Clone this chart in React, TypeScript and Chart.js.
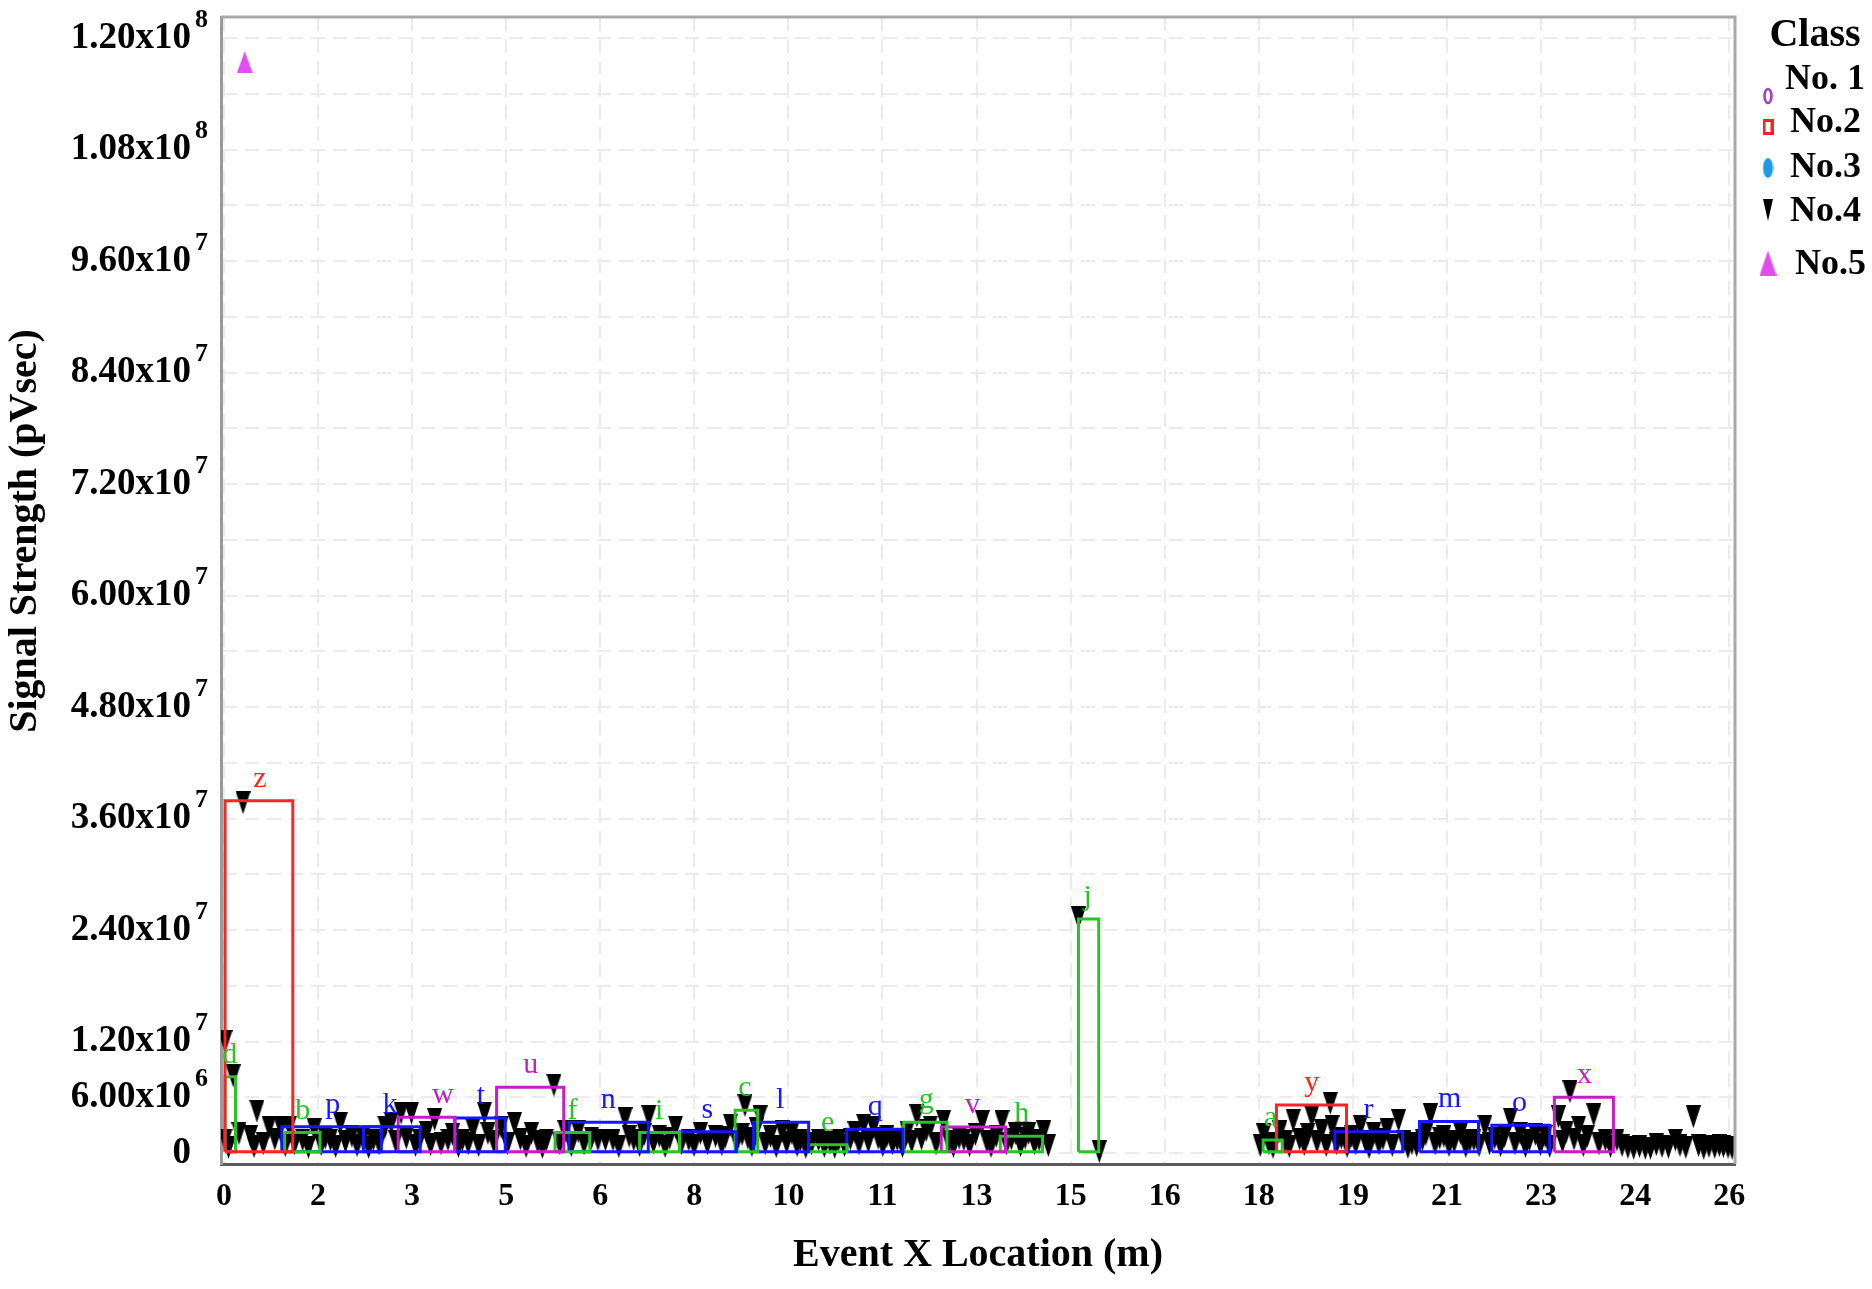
import React, { useEffect, useRef } from 'react';
import { Chart, registerables } from 'chart.js';

Chart.register(...registerables);

// ---------- axes ----------
const xTickValues = [0, 1.625, 3.25, 4.875, 6.5, 8.125, 9.75, 11.375, 13, 14.625, 16.25, 17.875, 19.5, 21.125, 22.75, 24.375, 26];
const xTickLabels = ['0', '2', '3', '5', '6', '8', '10', '11', '13', '15', '16', '18', '19', '21', '23', '24', '26'];

const yGridValues = [0, 6e6, 12e6, 18e6, 24e6, 30e6, 36e6, 42e6, 48e6, 54e6, 60e6, 66e6, 72e6, 78e6, 84e6, 90e6, 96e6, 102e6, 108e6, 114e6, 120e6];
const yLabelValues = [0, 6e6, 12e6, 24e6, 36e6, 48e6, 60e6, 72e6, 84e6, 96e6, 108e6, 120e6];
const yLabelBase = ['0', '6.00x10', '1.20x10', '2.40x10', '3.60x10', '4.80x10', '6.00x10', '7.20x10', '8.40x10', '9.60x10', '1.08x10', '1.20x10'];
const yLabelExp = ['', '6', '7', '7', '7', '7', '7', '7', '7', '7', '8', '8'];

const xTitle = 'Event X Location (m)';
const yTitle = 'Signal Strength (pVsec)';
const legendTitle = 'Class';
const classNames = ['No. 1', 'No.2', 'No.3', 'No.4', 'No.5'];

// ---------- class 4 events (x in m, y in 1e6 pVsec) ----------
const class4X = [
  0.02, 0.16, 0.02, 0.08, 0.26, 0.33, 0.46, 0.52, 0.57, 0.68, 0.78, 0.88, 0.98, 1.06, 1.13,
  1.22, 1.36, 1.46, 1.56, 1.68, 1.75, 1.84, 1.93, 2.01, 2.10, 2.21, 2.30, 2.40, 2.50, 2.58, 2.68, 2.78, 2.89, 2.97,
  3.06, 3.15, 3.24, 3.31, 3.38, 3.50, 3.57, 3.64, 3.75, 3.87, 3.95, 4.05, 4.12, 4.22, 4.30, 4.40, 4.50, 4.56, 4.66, 4.79, 4.90, 5.02, 5.12,
  5.22, 5.31, 5.42, 5.50, 5.57, 5.70, 5.80, 5.89, 6.00, 6.12, 6.22, 6.35, 6.46, 6.59, 6.72, 6.82, 6.93, 7.00, 7.08,
  7.18, 7.26, 7.34, 7.42, 7.52, 7.62, 7.70, 7.80, 7.90, 8.03, 8.12, 8.23, 8.35, 8.49, 8.60, 8.66, 8.75, 8.86, 8.95, 9.00, 9.05,
  9.12, 9.20, 9.26, 9.35, 9.44, 9.54, 9.64, 9.72, 9.81, 9.90, 9.96, 10.05, 10.15, 10.27, 10.37, 10.47, 10.55, 10.62, 10.72, 10.82, 10.90, 10.97, 11.05,
  11.13, 11.22, 11.30, 11.38, 11.45, 11.55, 11.63, 11.72, 11.80, 11.88, 11.97, 12.05, 12.13, 12.20, 12.30, 12.43, 12.52, 12.60, 12.70, 12.78, 12.88, 12.98,
  13.10, 13.18, 13.25, 13.34, 13.44, 13.52, 13.60, 13.67, 13.76, 13.84, 13.90, 14.00, 14.08, 14.16, 14.24,
  14.76, 15.12,
  17.90, 17.96, 18.05, 18.12, 18.24, 18.33, 18.40, 18.47, 18.58, 18.66, 18.72, 18.79, 18.88, 18.96, 19.04, 19.11, 19.14, 19.22, 19.30, 19.40, 19.48, 19.55, 19.63, 19.72, 19.78, 19.86, 19.95,
  20.02, 20.09, 20.18, 20.29, 20.38, 20.45, 20.52, 20.60, 20.70, 20.76, 20.84, 20.92, 21.00, 21.07, 21.16, 21.25, 21.36, 21.45, 21.52, 21.59, 21.68, 21.78, 21.86, 21.95,
  22.05, 22.12, 22.22, 22.30, 22.39, 22.48, 22.55, 22.65, 22.74, 22.82, 22.90, 23.05, 23.12, 23.18, 23.25, 23.32, 23.40, 23.48, 23.55, 23.66, 23.75, 23.86, 23.95,
  24.06, 24.15, 24.25, 24.35, 24.45, 24.55, 24.64, 24.74, 24.84, 24.95, 25.07, 25.15, 25.25, 25.38, 25.47, 25.56, 25.65, 25.75, 25.83, 25.90, 25.98, 26.05,
];
const class4Y = [
  12.0, 8.3, 1.4, 0.6, 2.1, 37.7, 1.8, 0.7, 4.5, 1.0, 2.8, 1.5, 2.8, 0.8, 2.8,
  1.0, 1.4, 0.6, 2.5, 0.9, 1.6, 1.4, 0.7, 3.2, 1.2, 1.8, 0.8, 1.5, 0.6, 1.4, 1.0, 2.8, 3.2, 1.2,
  4.3, 1.6, 4.3, 0.8, 1.4, 2.2, 0.9, 3.6, 1.0, 1.4, 2.0, 0.7, 1.4, 1.0, 2.5, 0.8, 4.3, 2.1, 1.2, 2.8, 1.0, 3.2, 1.5,
  0.7, 2.1, 1.2, 0.6, 1.4, 7.3, 1.0, 2.3, 0.8, 2.3, 1.0, 1.6, 1.4, 1.4, 1.4, 0.7, 3.7, 1.8, 1.4,
  0.8, 2.0, 3.9, 1.1, 1.8, 0.7, 1.6, 2.8, 1.0, 1.4, 0.8, 2.1, 1.0, 1.8, 0.9, 1.7, 3.0, 1.2, 2.0, 5.1, 1.6,
  0.8, 2.6, 3.9, 1.0, 1.8, 0.7, 2.3, 1.1, 2.1, 0.8, 1.4, 0.6, 1.0, 1.4, 0.7, 1.1, 0.6, 1.4, 0.8, 1.5, 2.2, 1.0, 3.0,
  1.2, 2.8, 1.6, 0.8, 1.8, 1.0, 1.4, 0.7, 2.2, 1.2, 4.0, 1.5, 2.4, 2.8, 1.0, 3.4, 1.2, 0.7, 1.6, 1.4, 0.8, 2.0,
  3.4, 1.2, 0.7, 1.8, 3.4, 1.0, 1.5, 2.1, 0.8, 1.6, 2.1, 1.0, 1.4, 2.3, 0.8,
  25.3, 0.15,
  0.8, 1.95, 1.0, 0.6, 2.3, 1.2, 0.7, 3.5, 1.5, 0.9, 2.0, 3.9, 1.2, 2.4, 0.8, 5.35, 2.85, 1.0, 1.6, 0.7, 1.8, 1.0, 2.85, 1.2, 0.6, 2.1, 1.0,
  1.5, 2.5, 0.8, 3.5, 1.2, 0.6, 1.0, 0.8, 1.4, 2.0, 4.1, 1.0, 1.6, 1.8, 0.8, 1.2, 2.1, 0.7, 1.3, 1.4, 0.8, 2.9, 1.0, 1.6,
  0.8, 1.8, 3.65, 1.0, 2.1, 0.7, 1.4, 2.0, 0.9, 1.8, 0.7, 3.9, 1.2, 2.2, 6.6, 1.5, 2.8, 0.8, 1.8, 4.1, 1.0, 1.4, 0.7,
  1.4, 0.8, 0.6, 0.5, 0.7, 0.5, 0.5, 0.9, 0.7, 0.6, 1.4, 0.8, 0.6, 3.9, 0.8, 0.5, 0.7, 0.6, 0.8, 0.7, 0.6, 0.5,
];

// ---------- class 5 event ----------
const class5X = [0.36];
const class5Y = [117.4];

// ---------- cluster boxes ----------
const boxLetters = ['z', 'd', 'b', 'p', 'k', 'w', 't', 'u', 'f', 'n', 'i', 's', 'c', 'l', 'e', 'q', 'g', 'v', 'h', 'j', 'a', 'y', 'r', 'm', 'o', 'x'];
const boxColors = ['red', 'green', 'green', 'blue', 'blue', 'magenta', 'blue', 'magenta', 'green', 'blue', 'green', 'blue', 'green', 'blue', 'green', 'blue', 'green', 'magenta', 'green', 'green', 'green', 'red', 'blue', 'blue', 'blue', 'magenta'];
const boxX1 = [0.02, 0.02, 1.05, 1.0, 2.41, 3.01, 3.99, 4.71, 5.72, 5.96, 7.18, 7.88, 8.83, 9.15, 10.10, 10.76, 11.74, 12.39, 13.41, 14.76, 17.95, 18.18, 19.19, 20.65, 21.90, 22.98];
const boxX2 = [1.19, 0.20, 1.66, 2.72, 3.39, 3.99, 4.86, 5.87, 6.32, 7.33, 7.87, 8.85, 9.22, 10.10, 10.76, 11.73, 12.49, 13.50, 14.14, 15.11, 18.28, 19.39, 20.36, 21.67, 22.90, 24.0];
const boxY1 = [0.15, 0.15, 0.15, 0.15, 0.15, 0.15, 0.15, 0.15, 0.15, 0.15, 0.15, 0.15, 0.15, 0.15, 0.15, 0.15, 0.15, 0.15, 0.15, 0.15, 0.15, 0.15, 0.15, 0.15, 0.15, 0.15];
const boxY2 = [37.9, 8.2, 2.2, 2.84, 2.84, 3.84, 3.76, 7.07, 2.2, 3.3, 2.2, 2.3, 4.6, 3.3, 0.9, 2.55, 3.3, 2.8, 1.8, 25.2, 1.4, 5.18, 2.3, 3.4, 3.0, 6.0];
const boxLabelX = [0.62, 0.1, 1.36, 1.88, 2.87, 3.78, 4.44, 5.3, 6.02, 6.64, 7.52, 8.35, 9.0, 9.61, 10.43, 11.25, 12.13, 12.93, 13.78, 14.92, 18.08, 18.79, 19.77, 21.17, 22.38, 23.5];

const Y_UNIT = 1e6;

const palette: Record<string, string> = {
  red: '#ff2424',
  green: '#26c426',
  blue: '#1616ff',
  magenta: '#c61ec6',
};

const SERIF = "'Liberation Serif', 'Times New Roman', serif";

function makeCanvas(w: number, h: number, draw: (c: CanvasRenderingContext2D) => void) {
  const c = document.createElement('canvas');
  c.width = w;
  c.height = h;
  const ctx = c.getContext('2d') as CanvasRenderingContext2D;
  draw(ctx);
  return c;
}

export default function App() {
  const ref = useRef<HTMLCanvasElement | null>(null);

  useEffect(() => {
    if (!ref.current) return;

    const triDown = makeCanvas(15, 23, (c) => {
      c.fillStyle = '#000';
      c.beginPath();
      c.moveTo(0, 0);
      c.lineTo(15, 0);
      c.lineTo(7.5, 23);
      c.closePath();
      c.fill();
    });
    const triUp = makeCanvas(16, 22, (c) => {
      c.fillStyle = '#e04ef0';
      c.beginPath();
      c.moveTo(8, 0);
      c.lineTo(16, 22);
      c.lineTo(0, 22);
      c.closePath();
      c.fill();
    });
    const mk1 = makeCanvas(10, 18, (c) => {
      c.strokeStyle = '#a040b8';
      c.lineWidth = 2.5;
      c.beginPath();
      c.ellipse(5, 9, 3.5, 7, 0, 0, Math.PI * 2);
      c.stroke();
    });
    const mk2 = makeCanvas(11, 16, (c) => {
      c.strokeStyle = '#ff2020';
      c.lineWidth = 3;
      c.strokeRect(1.5, 1.5, 8, 13);
    });
    const mk3 = makeCanvas(11, 22, (c) => {
      c.fillStyle = '#1a9ae8';
      c.beginPath();
      c.ellipse(5.5, 11, 5, 10, 0, 0, Math.PI * 2);
      c.fill();
    });
    const mk4 = makeCanvas(10, 22, (c) => {
      c.fillStyle = '#000';
      c.beginPath();
      c.moveTo(0, 0);
      c.lineTo(10, 0);
      c.lineTo(5, 22);
      c.closePath();
      c.fill();
    });
    const mk5 = makeCanvas(17, 25, (c) => {
      c.fillStyle = '#e04ef0';
      c.beginPath();
      c.moveTo(8.5, 0);
      c.lineTo(17, 25);
      c.lineTo(0, 25);
      c.closePath();
      c.fill();
    });
    const legendMarkers = [mk1, mk2, mk3, mk4, mk5];

    const classData = [
      [],
      [],
      [],
      class4X.map((x, i) => ({ x, y: class4Y[i] * Y_UNIT })),
      class5X.map((x, i) => ({ x, y: class5Y[i] * Y_UNIT })),
    ];
    const classStyles = [mk1, mk2, mk3, triDown, triUp];

    const classDatasets = classNames.map((name, i) => ({
      label: name,
      data: classData[i],
      pointStyle: classStyles[i],
      pointRadius: 10,
      showLine: false,
      order: 1,
    }));

    const boxDatasets = boxLetters.map((letter, i) => ({
      label: letter,
      data: [
        { x: boxX1[i], y: boxY1[i] * Y_UNIT },
        { x: boxX1[i], y: boxY2[i] * Y_UNIT },
        { x: boxX2[i], y: boxY2[i] * Y_UNIT },
        { x: boxX2[i], y: boxY1[i] * Y_UNIT },
        { x: boxX1[i], y: boxY1[i] * Y_UNIT },
      ],
      showLine: true,
      borderColor: palette[boxColors[i]],
      backgroundColor: palette[boxColors[i]],
      borderWidth: 3,
      pointRadius: 0,
      tension: 0,
      fill: false,
      order: 0,
    }));

    const overlay = {
      id: 'overlay',
      afterDraw(chart: any) {
        const { ctx, chartArea, scales } = chart;
        const xs = scales.x;
        const ys = scales.y;
        ctx.save();

        // top & right frame
        ctx.strokeStyle = '#a8a8a8';
        ctx.lineWidth = 3;
        ctx.setLineDash([]);
        ctx.beginPath();
        ctx.moveTo(chartArea.left, chartArea.top);
        ctx.lineTo(chartArea.right, chartArea.top);
        ctx.lineTo(chartArea.right, chartArea.bottom);
        ctx.stroke();

        // y axis title
        ctx.save();
        ctx.translate(26, 531);
        ctx.rotate(-Math.PI / 2);
        ctx.fillStyle = '#000';
        ctx.font = `bold 40px ${SERIF}`;
        ctx.textAlign = 'center';
        ctx.textBaseline = 'middle';
        ctx.fillText(yTitle, 0, 0);
        ctx.restore();

        // y tick labels with superscript exponents
        ctx.fillStyle = '#000';
        ctx.textBaseline = 'middle';
        yLabelValues.forEach((v, i) => {
          const y = ys.getPixelForValue(v);
          ctx.font = `bold 37px ${SERIF}`;
          ctx.textAlign = 'right';
          ctx.fillText(yLabelBase[i], 191, y);
          if (yLabelExp[i]) {
            ctx.font = `bold 26px ${SERIF}`;
            ctx.textAlign = 'left';
            ctx.fillText(yLabelExp[i], 195, y - 18);
          }
        });

        // cluster letters
        ctx.font = `30px ${SERIF}`;
        ctx.textAlign = 'center';
        ctx.textBaseline = 'alphabetic';
        boxLetters.forEach((letter, i) => {
          ctx.fillStyle = palette[boxColors[i]];
          const x = xs.getPixelForValue(boxLabelX[i]);
          const y = ys.getPixelForValue(boxY2[i] * Y_UNIT) - 14;
          ctx.fillText(letter, x, y);
        });

        // legend
        ctx.fillStyle = '#000';
        ctx.font = `bold 40px ${SERIF}`;
        ctx.textAlign = 'center';
        ctx.textBaseline = 'middle';
        ctx.fillText(legendTitle, 1815, 36);
        const textX = [1785, 1790, 1790, 1790, 1795];
        const textY = [80, 123, 168, 212, 265];
        const markY = [96, 127, 168, 210, 263];
        ctx.font = `bold 36px ${SERIF}`;
        ctx.textAlign = 'left';
        chart.data.datasets.slice(0, classNames.length).forEach((ds: any, i: number) => {
          ctx.fillText(ds.label, textX[i], textY[i]);
          const m = legendMarkers[i];
          ctx.drawImage(m, 1768 - m.width / 2, markY[i] - m.height / 2);
        });

        ctx.restore();
      },
    };

    const chart = new Chart(ref.current, {
      type: 'scatter',
      data: { datasets: [...classDatasets, ...boxDatasets] as any },
      options: {
        animation: false,
        responsive: false,
        devicePixelRatio: 1,
        events: [],
        layout: { padding: { top: 17, right: 137, left: 0, bottom: 0 } },
        plugins: {
          legend: { display: false },
          tooltip: { enabled: false },
        },
        scales: {
          x: {
            type: 'linear',
            min: -0.05,
            max: 26.1,
            afterBuildTicks: (scale: any) => {
              scale.ticks = xTickValues.map((v) => ({ value: v }));
            },
            afterFit: (scale: any) => {
              scale.height = 125;
            },
            ticks: {
              autoSkip: false,
              maxRotation: 0,
              padding: 14,
              color: '#000',
              font: { family: SERIF, size: 32, weight: 'bold' },
              callback: (_v: any, index: number) => xTickLabels[index],
            },
            grid: { color: '#ebebeb', lineWidth: 2, drawTicks: false },
            border: { display: true, color: '#5c5c5c', width: 3, dash: [14, 8] },
            title: {
              display: true,
              text: xTitle,
              color: '#000',
              font: { family: SERIF, size: 40, weight: 'bold' },
              padding: { top: 0, bottom: 9 },
            },
          },
          y: {
            type: 'linear',
            min: -1.18e6,
            max: 122.26e6,
            afterBuildTicks: (scale: any) => {
              scale.ticks = yGridValues.map((v) => ({ value: v }));
            },
            afterFit: (scale: any) => {
              scale.width = 221;
            },
            ticks: { display: false },
            grid: { color: '#ebebeb', lineWidth: 2, drawTicks: false },
            border: { display: true, color: '#9a9a9a', width: 3, dash: [14, 8] },
            title: { display: false },
          },
        },
      } as any,
      plugins: [overlay],
    });

    return () => chart.destroy();
  }, []);

  return (
    <div style={{ position: 'absolute', left: 0, top: 0, width: 1872, height: 1289, background: '#fff' }}>
      <canvas ref={ref} width={1872} height={1289} style={{ display: 'block', width: 1872, height: 1289 }} />
    </div>
  );
}
